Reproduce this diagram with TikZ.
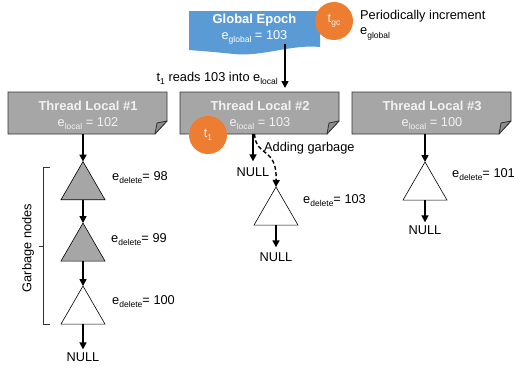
\documentclass[tikz,border=0pt]{standalone}
\usepackage{fontspec}
\setmainfont{Liberation Sans}
\usetikzlibrary{shapes.geometric,arrows.meta,backgrounds,calc}
\definecolor{epochblue}{HTML}{5B9BD5}
\definecolor{tlgray}{HTML}{A6A6A6}
\definecolor{foldgray}{HTML}{8C8C8C}
\definecolor{torange}{HTML}{ED7D31}
\definecolor{boxtext}{HTML}{F2F2F2}
\newcommand\sbs[1]{\raisebox{-0.45ex}{\fontsize{8.5}{9}\selectfont #1}}
\begin{document}
\begin{tikzpicture}[x=1pt,y=-1pt,
  txt/.style={font=\fontsize{12.8}{15.5}\selectfont, inner sep=0pt},
  boxlabel/.style={font=\fontsize{12.8}{16}\selectfont, inner sep=0pt, text=boxtext, align=center},
  boxshape/.style={minimum width=159pt, minimum height=42pt, inner sep=0pt, outer sep=0pt},
  boxline/.style={fill=tlgray, draw=black!80, line width=0.8pt},
  foldline/.style={fill=foldgray, draw=black!80, line width=0.8pt, line join=round},
  arr/.style={line width=1.6pt, -{Triangle[width=7pt,length=7pt]}},
  dasharr/.style={line width=1.4pt, dash pattern=on 4pt off 2.5pt, -{Triangle[width=7pt,length=7pt]}},
  tri/.style={regular polygon, regular polygon sides=3, minimum size=50.8pt, inner sep=0pt, outer sep=0pt, draw=black, line width=0.6pt},
  thread/.style={circle, fill=torange, minimum size=38pt, inner sep=0pt, text=boxtext, font=\fontsize{12.8}{15}\selectfont},
  bracket/.style={draw=black!80, line width=0.8pt},
]
\useasboundingbox (0,0) rectangle (514,367);

% Global epoch
\node[minimum width=131pt, minimum height=40pt, inner sep=0pt, outer sep=0pt] (geb) at (254.5,31) {};
\node[boxlabel, text=white] (get) at (254.5,29.5) {\fontsize{13}{16}\selectfont\textbf{Global Epoch}\\e\sbs{global} = 103};
\node[thread] (tgc) at (334,21) {t\sbs{gc}};
\node[txt, anchor=north west, align=left] (per) at (360,10) {Periodically increment\\e\sbs{global}};

% Thread local boxes
\node[boxshape] (tl1) at (87.5,113) {};
\node[boxshape] (tl2) at (259.5,113) {};
\node[boxshape] (tl3) at (431.5,113) {};
\node[boxlabel] (tl1t) at (88,115) {\fontsize{13}{16}\selectfont\textbf{Thread Local \#1}\\e\sbs{local} = 102};
\node[boxlabel] (tl2t) at (260,115) {\fontsize{13}{16}\selectfont\textbf{Thread Local \#2}\\e\sbs{local} = 103};
\node[boxlabel] (tl3t) at (432,115) {\fontsize{13}{16}\selectfont\textbf{Thread Local \#3}\\e\sbs{local} = 100};

\begin{pgfonlayer}{background}
  \fill[epochblue] (geb.north west) -- (geb.north east) -- (320,47)
     .. controls (292,44) and (262,57) .. (234,54)
     .. controls (214,52) .. (189,50) -- cycle;
  \foreach \n in {tl1,tl2,tl3} {
    \draw[boxline] (\n.north west) -- (\n.north east) -- ([yshift=13pt]\n.south east)
      -- ([xshift=-12pt]\n.south east) -- (\n.south west) -- cycle;
    \draw[foldline] ([yshift=13pt]\n.south east) -- ([xshift=-12pt]\n.south east)
      .. controls ([xshift=-11.5pt,yshift=5pt]\n.south east) .. ([xshift=-10pt,yshift=11pt]\n.south east) -- cycle;
  }
\end{pgfonlayer}

\node[thread] (t1) at (208,135) {t\sbs{1}};

% arrow global -> thread local 2
\coordinate (gearr) at (285,44);
\draw[arr, shorten >=4pt] (gearr) -- (gearr |- tl2.north);
\node[txt, anchor=east] (reads) at (278,78) {t\sbs{1} reads 103 into e\sbs{local}};

% column 1
\node[tri, fill=tlgray] (g1) at (83,187) {};
\node[tri, fill=tlgray] (g2) at (83,248.4) {};
\node[tri, fill=white] (g3) at (83,311.4) {};
\node[txt] (n1) at (83,357) {NULL};
\draw[arr] (g1.north |- tl1.south) -- (g1.north);
\draw[arr] (g1.south) -- (g2.north);
\draw[arr] (g2.south) -- (g3.north);
\draw[arr, shorten >=3pt] (g3.south) -- (n1.north);
\node[txt, anchor=west] (l1) at (112,178) {e\sbs{delete}= 98};
\node[txt, anchor=west] (l2) at (111,240) {e\sbs{delete}= 99};
\node[txt, anchor=west] (l3) at (112,302) {e\sbs{delete}= 100};

% garbage bracket
\draw[bracket] (50,167) -- (43,167) -- (43,324) -- (50,324);
\draw[bracket] (43,246) -- (39,246);
\node[txt, rotate=90] (gn) at (28,248) {Garbage nodes};

% column 2
\node[txt] (n2a) at (253,172) {NULL};
\draw[arr, shorten >=6pt] (n2a.north |- tl2.south) -- (n2a.north);
\node[tri, fill=white] (g5) at (276,212.4) {};
\draw[dasharr] ([xshift=1.5pt]n2a.north |- tl2.south) .. controls (256,158) and (277,146) .. (g5.north);
\node[txt, anchor=west] (add) at (264,148) {Adding garbage};
\node[txt] (n2b) at (276,257) {NULL};
\draw[arr, shorten >=5pt] (g5.south) -- (n2b.north);
\node[txt, anchor=west] (l5) at (303,201) {e\sbs{delete}= 103};

% column 3
\node[tri, fill=white] (g4) at (425,187.4) {};
\node[txt] (n3) at (425,230) {NULL};
\draw[arr] (g4.north |- tl3.south) -- (g4.north);
\draw[arr, shorten >=3pt] (g4.south) -- (n3.north);
\node[txt, anchor=west] (l4) at (452,175) {e\sbs{delete}= 101};
\end{tikzpicture}
\end{document}
